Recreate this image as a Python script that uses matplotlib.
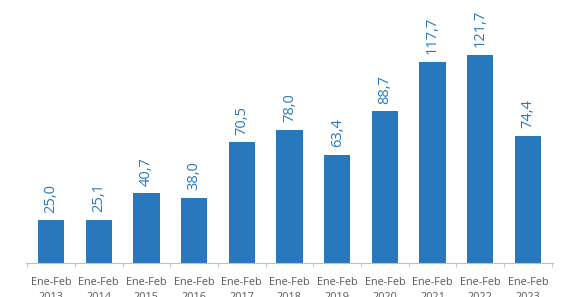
import numpy as np
import matplotlib.pyplot as plt

plt.rcParams['font.family'] = ['Open Sans', 'DejaVu Sans']

years = ['2013', '2014', '2015', '2016', '2017', '2018', '2019', '2020', '2021', '2022', '2023']
values = [25.0, 25.1, 40.7, 38.0, 70.5, 78.0, 63.4, 88.7, 117.7, 121.7, 74.4]
labels = ['Ene-Feb\n' + y for y in years]

blue = '#2878BE'
grey = '#BFBFBF'

fig = plt.figure(figsize=(5.71, 2.97), dpi=100)
ax = fig.add_axes([0.046, 0.1145, 0.922, 0.8855])

x = np.arange(len(values))
ax.bar(x, values, width=0.55, color=blue, zorder=2)

for xi, v in zip(x, values):
    txt = f'{v:.1f}'.replace('.', ',')
    ax.text(xi, v + 4.5, txt, rotation=90, ha='center', va='bottom',
            color=blue, fontsize=10.5)

ax.set_xlim(-0.52, len(values) - 0.48)
ax.set_ylim(0, 153.8)

ax.set_xticks(x)
ax.set_xticklabels(labels, fontsize=7.8, color='#595959', linespacing=1.5)
ax.tick_params(axis='x', length=0, pad=10)
ax.set_xticks(np.arange(len(values) + 1) - 0.5, minor=True)
ax.tick_params(axis='x', which='minor', length=3, color=grey)
ax.set_yticks([])

for s in ['top', 'right', 'left']:
    ax.spines[s].set_visible(False)
ax.spines['bottom'].set_color(grey)

fig.savefig('out.png', dpi=100)
